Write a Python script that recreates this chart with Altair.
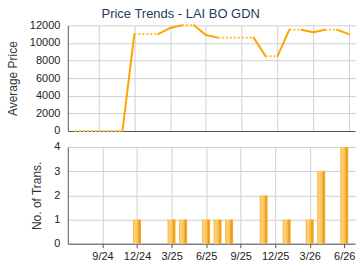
import altair as alt
import pandas as pd

# month index: 0 = Sep 2024
month_idx = list(range(-2, 22))
prices = [0, 0, 0, 0, 0, 11000, 11000, 11000, 11700, 12000, 12000, 10900,
          10600, 10600, 10600, 10600, 8500, 8500, 11500, 11500, 11200, 11500, 11500, 11000]

bar_months = [3, 6, 7, 9, 10, 11, 14, 16, 18, 19, 21]
bar_counts = [1, 1, 1, 1, 1, 1, 2, 1, 1, 3, 4]

tick_vals = [0, 3, 6, 9, 12, 15, 18, 21]
tick_labels = ["9/24", "12/24", "3/25", "6/25", "9/25", "12/25", "3/26", "6/26"]

seg_rows = []
for i in range(len(month_idx) - 1):
    seg_rows.append({
        "x": month_idx[i], "x2": month_idx[i + 1],
        "y": prices[i], "y2": prices[i + 1],
        "style": "solid" if prices[i] != prices[i + 1] else "dotted",
    })
segs = pd.DataFrame(seg_rows)
bars = pd.DataFrame({"m": bar_months, "n": bar_counts})

label_expr = "{" + ",".join(f"'{v}':'{l}'" for v, l in zip(tick_vals, tick_labels)) + "}[datum.value]"

FONT = "Liberation Sans"
xdom = [-2.58, 21.5]

x_top = alt.X("x:Q", scale=alt.Scale(domain=xdom, nice=False, zero=False),
              axis=alt.Axis(values=tick_vals, labels=False, ticks=False, title=None,
                            grid=True, gridColor="#d0d0d0", domainColor="#555555"))
y_top = alt.Y("y:Q", scale=alt.Scale(domain=[0, 12000], nice=False),
              axis=alt.Axis(values=[0, 2000, 4000, 6000, 8000, 10000, 12000], title="Average Price",
                            format="d", ticks=False, labelPadding=8, gridColor="#d0d0d0",
                            domainColor="#555555"))

solid = alt.Chart(segs).transform_filter("datum.style=='solid'").mark_rule(
    color="#FFA500", strokeWidth=2, strokeCap="round"
).encode(x=x_top, x2="x2:Q", y=y_top, y2="y2:Q")

dotted = alt.Chart(segs).transform_filter("datum.style=='dotted'").mark_rule(
    color="#FFBE40", strokeWidth=2, strokeDash=[2, 2]
).encode(x=x_top, x2="x2:Q", y=y_top, y2="y2:Q")

top = alt.layer(solid, dotted).properties(width=288, height=106)

grad = alt.Gradient(
    gradient="linear", x1=0, x2=1, y1=0, y2=0,
    stops=[
        alt.GradientStop(color="#F2AE3A", offset=0),
        alt.GradientStop(color="#FFD27A", offset=0.2),
        alt.GradientStop(color="#FAC455", offset=0.55),
        alt.GradientStop(color="#E99A12", offset=0.8),
        alt.GradientStop(color="#F5B63F", offset=1),
    ],
)

bottom = alt.Chart(bars).mark_bar(size=8, color=grad).encode(
    x=alt.X("m:Q", scale=alt.Scale(domain=xdom, nice=False, zero=False),
            axis=alt.Axis(values=tick_vals, labelExpr=label_expr, title=None, tickSize=4,
                          tickColor="#555555", labelPadding=3, gridColor="#d0d0d0",
                          domainColor="#555555")),
    y=alt.Y("n:Q", scale=alt.Scale(domain=[0, 4], nice=False),
            axis=alt.Axis(values=[0, 1, 2, 3, 4], title="No. of Trans.", ticks=False,
                          labelPadding=8, gridColor="#d0d0d0", domainColor="#555555")),
).properties(width=288, height=97)

chart = alt.vconcat(top, bottom, spacing=5).properties(
    title=alt.TitleParams("Price Trends - LAI BO GDN", font=FONT, fontSize=13,
                          fontWeight="normal", color="#1F3A5F", anchor="middle", offset=-2),
    padding={"left": 6, "top": 8, "right": 5, "bottom": 3},
    background="white",
).configure_view(stroke=None).configure_axis(
    labelFont=FONT, labelFontSize=11, labelColor="#222222",
    titleFont=FONT, titleFontSize=12, titleFontWeight="normal", titleColor="#333333",
    titlePadding=10,
).configure_concat(spacing=5)

chart.save("out.html", embed_options={"renderer": "svg", "actions": False})
